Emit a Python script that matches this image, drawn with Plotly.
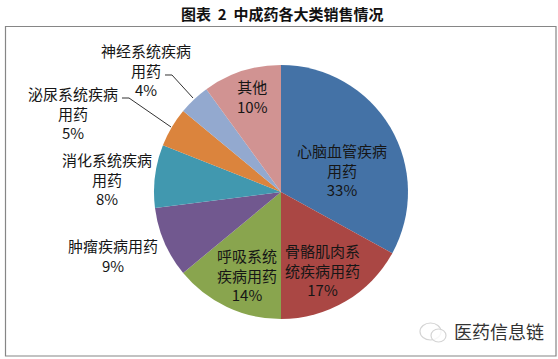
import plotly.graph_objects as go

categories = ["心脑血管疾病用药", "骨骼肌肉系统疾病用药", "呼吸系统疾病用药", "肿瘤疾病用药",
              "消化系统疾病用药", "泌尿系统疾病用药", "神经系统疾病用药", "其他"]
values = [33, 17, 14, 9, 8, 5, 4, 10]
colors = ["#4472A6", "#AA4744", "#89A54E", "#71588F", "#4198AF", "#DB843D", "#93A9CF", "#D19392"]
label_lines = [["心脑血管疾病", "用药", "33%"], ["骨骼肌肉系", "统疾病用药", "17%"],
               ["呼吸系统", "疾病用药", "14%"], ["肿瘤疾病用药", "9%"],
               ["消化系统疾病", "用药", "8%"], ["泌尿系统疾病", "用药", "5%"],
               ["神经系统疾病", "用药", "4%"], ["其他", "10%"]]
label_pos = [(342, 170), (322, 270), (247, 275), (113, 255),
             (107, 179), (73, 113), (146, 70), (252, 97)]

W, H = 558, 359
FONT = "Noto Sans CJK SC"
cx, cy, r = 281, 192, 127

fig = go.Figure(go.Pie(
    labels=categories, values=values, sort=False, direction="clockwise", rotation=0,
    marker=dict(colors=colors, line=dict(width=0)), textinfo="none", hoverinfo="label+percent",
    domain=dict(x=[(cx - r) / W, (cx + r) / W], y=[1 - (cy + r) / H, 1 - (cy - r) / H]),
    showlegend=False))

anns = [dict(x=x / W, y=1 - y / H, xref="paper", yref="paper", text="<br>".join(t), showarrow=False,
             font=dict(family=FONT, size=15, color="#161616"), align="center",
             xanchor="center", yanchor="middle")
        for t, (x, y) in zip(label_lines, label_pos)]
anns.append(dict(x=282 / W, y=1 - 13 / H, xref="paper", yref="paper", text="<b>图表  2  中成药各大类销售情况</b>",
                 showarrow=False, font=dict(family=FONT, size=15, color="#111111"),
                 xanchor="center", yanchor="middle"))
anns.append(dict(x=499 / W, y=1 - 331 / H, xref="paper", yref="paper", text="医药信息链", showarrow=False,
                 font=dict(family=FONT, size=18, color="#333333"), xanchor="center", yanchor="middle"))


def px_line(pts, color="#333333", width=1):
    path = "M " + " L ".join(f"{x / W:.4f},{1 - y / H:.4f}" for x, y in pts)
    return dict(type="path", xref="paper", yref="paper", path=path, line=dict(color=color, width=width))


def px_circle(x0, y0, x1, y1):
    return dict(type="circle", xref="paper", yref="paper", x0=x0 / W, x1=x1 / W, y0=1 - y1 / H, y1=1 - y0 / H,
                line=dict(color="#d4d4d4", width=1.2), fillcolor="rgba(255,255,255,0.8)")


shapes = [
    dict(type="rect", xref="paper", yref="paper", x0=5.5 / W, x1=556 / W, y0=1 - 356 / H, y1=1 - 26.5 / H,
         line=dict(color="#868686", width=1.2), layer="below"),
    px_line([(165, 75), (172, 75), (193, 98)]),
    px_line([(122, 98), (129, 98), (171, 127)]),
    px_circle(420, 323, 441, 340),
    px_circle(431, 329, 446, 342),
]

fig.update_layout(width=W, height=H, autosize=False, margin=dict(l=0, r=0, t=0, b=0),
                  paper_bgcolor="white", annotations=anns, shapes=shapes)
fig.write_html("out.html", config=dict(displayModeBar=False), post_script="document.body.style.margin='0';")
